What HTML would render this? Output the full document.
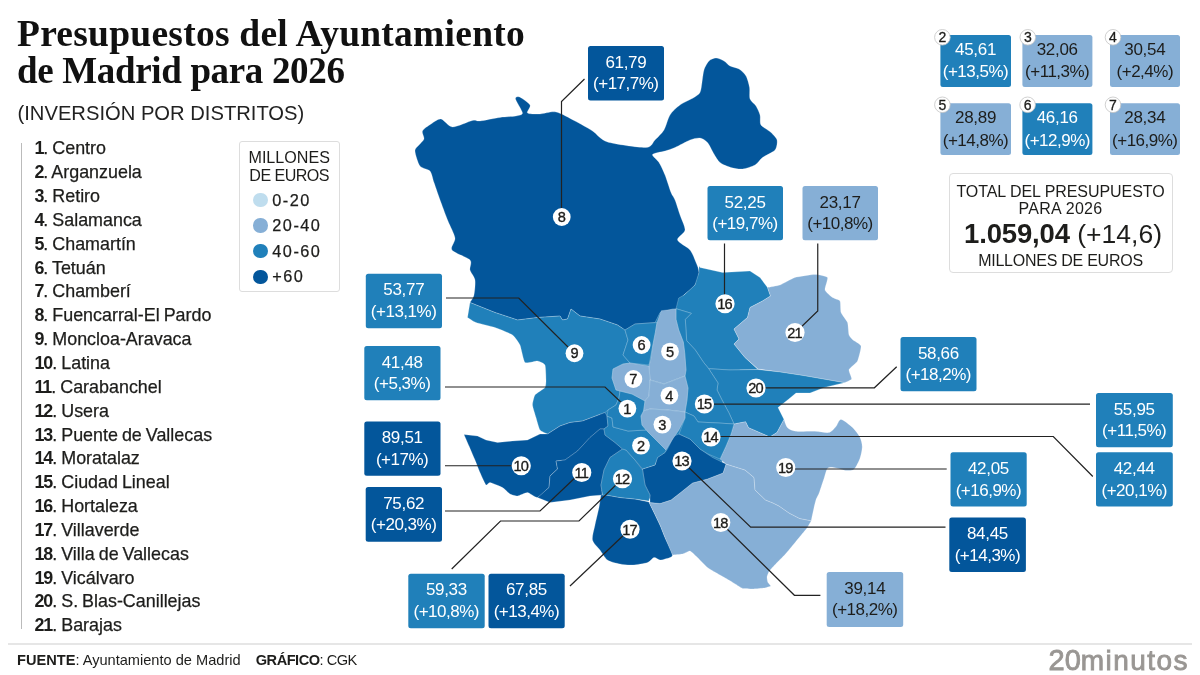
<!DOCTYPE html>
<html lang="es"><head><meta charset="utf-8"><title>Presupuestos del Ayuntamiento de Madrid para 2026</title>
<style>
html,body{margin:0;padding:0;background:#fff}
#g{position:relative;width:1200px;height:675px;overflow:hidden;background:#fff;font-family:"Liberation Sans",sans-serif;color:#1d1d1b}
#g svg{position:absolute;left:0;top:0}
h1{position:absolute;left:17px;top:15.6px;margin:0;font-family:"Liberation Serif",serif;font-weight:bold;font-size:37.5px;line-height:36.9px;letter-spacing:0.25px;color:#111;white-space:nowrap}
h1 span{font-size:37px;letter-spacing:-0.34px}
.sub{position:absolute;left:17.5px;top:100px;font-size:20.2px;line-height:26px;color:#222;white-space:nowrap}
ol{position:absolute;left:34.4px;top:137.4px;margin:0;padding:0;list-style:none;font-size:17.9px;line-height:23.85px;white-space:nowrap;word-spacing:-1px;-webkit-text-stroke:0.25px #1d1d1b}
ol b{font-weight:bold;letter-spacing:-1px;-webkit-text-stroke:0}
.vl{position:absolute;left:21px;top:143px;width:1px;height:486px;background:#bbb}
.leg{position:absolute;left:238.7px;top:140.7px;width:101px;height:151px;border:1px solid #ddd;border-radius:3px;box-sizing:border-box}
.leg .t{position:absolute;left:0;right:0;top:6.5px;text-align:center;font-size:16.1px;line-height:18px}
.leg i{position:absolute;left:13.8px;width:14.4px;height:14.4px;border-radius:50%}
.leg u{text-decoration:none;letter-spacing:-0.55px}
.leg span{-webkit-text-stroke:0.25px #1d1d1b;position:absolute;left:32.6px;font-size:16.3px;line-height:18px;letter-spacing:1.5px}
.hr{position:absolute;left:8px;top:642.8px;width:1184px;height:2px;background:#e6e6e6}
.foot{position:absolute;left:17px;top:651px;font-size:14.6px;line-height:18px;white-space:nowrap}
.logo{position:absolute;left:1048.5px;top:643.6px;font-size:28px;line-height:32px;color:#999693;white-space:nowrap;letter-spacing:1.45px;-webkit-text-stroke:0.85px #999693}
.logo b{font-weight:normal;font-size:29px;letter-spacing:0}
.tot{position:absolute;left:949px;top:173px;width:224px;height:100px;border:1px solid #ddd;border-radius:4px;box-sizing:border-box;text-align:center}
.tot div{position:absolute;left:0;right:0;white-space:nowrap}
</style></head><body><div id="g">
<h1>Presupuestos del Ayuntamiento<br><span>de Madrid para 2026</span></h1>
<div class="sub">(INVERSIÓN POR DISTRITOS)</div>
<div class="vl"></div>
<ol>
<li><b>1</b>. Centro</li>
<li><b>2</b>. Arganzuela</li>
<li><b>3</b>. Retiro</li>
<li><b>4</b>. Salamanca</li>
<li><b>5</b>. Chamartín</li>
<li><b>6</b>. Tetuán</li>
<li><b>7</b>. Chamberí</li>
<li><b>8</b>. Fuencarral-El Pardo</li>
<li><b>9</b>. Moncloa-Aravaca</li>
<li><b>10</b>. Latina</li>
<li><b>11</b>. Carabanchel</li>
<li><b>12</b>. Usera</li>
<li><b>13</b>. Puente de Vallecas</li>
<li><b>14</b>. Moratalaz</li>
<li><b>15</b>. Ciudad Lineal</li>
<li><b>16</b>. Hortaleza</li>
<li><b>17</b>. Villaverde</li>
<li><b>18</b>. Villa de Vallecas</li>
<li><b>19</b>. Vicálvaro</li>
<li><b>20</b>. S. Blas-Canillejas</li>
<li><b>21</b>. Barajas</li>
</ol>
<div class="leg"><div class="t">MILLONES<br><u>DE EUROS</u></div>
<i style="top:51.2px;background:#BFDDEE"></i><span style="top:49.6px">0-20</span>
<i style="top:76.8px;background:#86AFD6"></i><span style="top:74.6px">20-40</span>
<i style="top:102.4px;background:#2080BA"></i><span style="top:100px">40-60</span>
<i style="top:127.9px;background:#03569B"></i><span style="top:125.1px">+60</span>
</div>
<svg width="1200" height="675" viewBox="0 0 1200 675" font-family="'Liberation Sans',sans-serif">
<g>
<polygon fill="#2080BA" points="600,405 625,320 700,300 740,370 735,430 722,462 670,455 640,470 600,440"/>
<polygon fill="#03569B" points="600,425 640,465 660,500 604,492 560,462"/>
</g>
<g stroke="#ffffff" stroke-opacity="0.28" stroke-width="0.8" stroke-linejoin="round">
<path fill="#03569B" d="M415.0,151.0C414.9,148.2 417.8,146.6 419.0,145.0C420.2,143.4 423.5,140.9 424.0,139.0C424.5,137.1 421.6,133.0 422.5,131.0C423.4,129.0 428.5,125.6 431.0,124.0C433.5,122.4 438.1,118.6 441.0,119.0C443.9,119.4 448.3,126.8 452.5,127.0C456.7,127.2 468.8,121.3 472.5,120.5C476.2,119.7 476.3,121.4 480.0,121.0C483.7,120.6 495.2,118.2 500.0,117.5C504.8,116.8 513.0,116.6 516.0,116.0C519.0,115.4 522.6,115.3 522.5,113.0C522.4,110.7 515.9,101.1 515.5,99.0C515.1,96.9 517.6,96.2 519.5,97.0C521.4,97.8 528.9,102.9 530.0,105.0C531.1,107.1 526.2,111.8 527.5,113.0C528.8,114.2 536.2,114.1 540.0,114.0C543.8,113.9 551.3,111.1 556.0,112.0C560.7,112.9 570.1,118.5 575.0,121.0C579.9,123.5 588.2,128.2 592.5,131.0C596.8,133.8 600.4,139.8 607.5,142.0C614.6,144.2 639.7,147.8 646.0,147.5C652.3,147.2 652.6,142.3 655.0,140.0C657.4,137.7 662.0,133.3 664.0,130.0C666.0,126.7 667.9,118.3 670.0,115.0C672.1,111.7 676.8,107.3 680.0,105.0C683.2,102.7 691.3,99.2 694.0,97.5C696.7,95.8 698.9,94.5 700.0,92.5C701.1,90.5 701.5,85.5 702.0,82.5C702.5,79.5 703.1,72.9 704.0,70.0C704.9,67.1 707.4,62.6 709.0,61.0C710.6,59.4 714.0,58.0 716.0,58.0C718.0,58.0 722.1,59.9 724.0,61.0C725.9,62.1 728.0,64.9 730.0,66.0C732.0,67.1 736.9,67.7 739.0,69.0C741.1,70.3 744.6,73.5 746.0,76.0C747.4,78.5 749.0,84.4 749.5,87.5C750.0,90.6 749.1,96.5 750.0,99.0C750.9,101.5 754.7,103.9 756.0,106.0C757.3,108.1 759.3,112.5 760.0,115.0C760.7,117.5 759.5,122.7 761.0,125.0C762.5,127.3 768.9,130.5 771.0,132.5C773.1,134.5 776.5,137.7 777.0,140.0C777.5,142.3 776.9,147.7 775.0,150.0C773.1,152.3 765.2,155.5 762.5,157.5C759.8,159.5 757.7,163.5 755.0,165.0C752.3,166.5 745.7,168.7 742.5,169.0C739.3,169.3 734.0,168.4 731.0,167.5C728.0,166.6 722.3,164.3 720.0,162.5C717.7,160.7 715.7,156.7 714.0,154.0C712.3,151.3 709.4,144.6 707.5,142.5C705.6,140.4 702.3,138.3 700.0,138.0C697.7,137.7 693.3,138.7 690.0,140.0C686.7,141.3 678.3,146.0 675.0,147.5C671.7,149.0 668.0,150.1 665.0,151.0C662.0,151.9 653.3,153.0 652.5,154.5C651.7,156.0 657.3,159.8 659.0,162.5C660.7,165.2 663.4,171.0 665.0,175.0C666.6,179.0 669.7,189.2 671.0,192.5C672.3,195.8 673.8,197.0 675.0,200.0C676.2,203.0 678.7,211.0 680.0,215.0C681.3,219.0 685.3,226.7 685.0,230.0C684.7,233.3 676.8,237.3 677.5,240.0C678.2,242.7 687.5,247.0 690.0,250.0C692.5,253.0 694.8,259.5 696.0,262.5C697.2,265.5 699.1,269.5 699.0,272.5C698.9,275.5 697.0,282.0 695.0,285.0C693.0,288.0 686.0,293.0 684.0,295.0C682.0,297.0 680.9,298.1 680.0,300.0C679.1,301.9 677.8,307.8 677.5,309.0L672.5,309.0L660.0,312.5L655.0,322.5L635.0,324.0L625.0,330.0L617.5,325.0L600.0,319.0L580.0,316.0L571.0,309.0L567.5,319.0L562.5,320.0L560.0,316.0L537.5,317.5L517.5,320.0L495.0,312.5L470.0,302.5C470.5,301.5 473.3,298.0 474.0,295.0C474.7,292.0 475.5,283.3 475.0,280.0C474.5,276.7 470.7,272.7 470.0,270.0C469.3,267.3 472.4,262.7 470.0,260.0C467.6,257.3 454.0,252.9 452.0,250.0C450.0,247.1 455.5,241.9 455.0,238.0C454.5,234.1 449.9,225.7 448.0,221.0C446.1,216.3 442.9,207.6 441.0,202.5C439.1,197.4 435.5,186.7 434.0,182.5C432.5,178.3 431.9,173.2 430.0,171.0C428.1,168.8 422.0,168.7 420.0,166.0C418.0,163.3 415.1,153.8 415.0,151.0Z"/>
<path fill="#2080BA" d="M470.0,302.5L495.0,312.5L517.5,320.0L537.5,317.5L560.0,316.0L562.5,320.0L567.5,319.0L571.0,309.0L580.0,316.0L600.0,319.0L617.5,325.0L625.0,330.0L628.0,340.0L623.0,355.0L630.0,363.0L623.0,364.0L613.0,369.0L612.0,378.0L616.0,390.0L620.0,391.0L619.0,398.0L616.0,405.0L608.0,410.0L605.0,412.5L582.5,421.0L570.0,422.5L560.0,426.0L547.5,434.0C546.9,433.7 541.0,431.4 540.0,430.0C539.0,428.6 536.6,419.6 536.0,417.5C535.4,415.4 532.6,406.9 532.5,405.0C532.4,403.1 534.0,396.5 535.0,395.0C536.0,393.5 544.1,388.8 545.0,387.5C545.9,386.2 546.0,381.9 546.0,380.0C546.0,378.1 545.7,366.6 545.0,365.0C544.3,363.4 539.2,361.2 537.5,361.0C535.8,360.8 526.5,363.8 525.0,362.5C523.5,361.2 521.0,347.3 520.0,345.0C519.0,342.7 514.6,336.5 512.5,335.0C510.4,333.5 498.0,328.5 495.0,327.5C492.0,326.5 478.3,323.3 476.0,322.5C473.7,321.7 468.2,317.9 467.5,317.5L470.0,302.5Z"/>
<polygon fill="#2080BA" points="699,266 700,267.5 722.5,272.5 750,271 760,277.5 767.5,287.5 770.5,296 762.5,301 750,307.5 747.5,317.5 734,329 739,339 734,344 745,357.5 758,369.5 730,370 708.7,368.7 703.3,362 695.3,350 686.7,340.7 686,331.3 685.3,319.3 691.3,313.3 676,308.7 678.7,298 684,295 695,285 699,272.5"/>
<path fill="#86AFD6" d="M770.5,296.0L767.5,287.5C768.5,287.3 777.7,285.8 780.0,285.0C782.3,284.2 792.1,278.4 795.0,277.5C797.9,276.6 812.3,274.5 815.0,274.5C817.7,274.5 826.7,276.2 827.5,277.5C828.3,278.8 824.6,288.3 825.0,290.0C825.4,291.7 831.2,296.6 832.5,297.5C833.8,298.4 839.3,299.8 840.0,301.0C840.7,302.2 840.4,310.7 841.0,312.5C841.6,314.3 846.8,320.6 847.5,322.5C848.2,324.4 848.5,333.5 849.0,335.0C849.5,336.5 852.0,339.1 853.0,340.0C854.0,340.9 860.6,344.2 861.0,346.0C861.4,347.8 858.5,359.0 857.5,361.0C856.5,363.0 849.5,368.1 849.0,369.6C848.5,371.1 852.0,377.9 851.6,379.0C851.2,380.1 845.1,382.4 844.5,382.7L803.0,375.5L780.0,372.0L758.0,369.0L745.0,357.5L734.0,344.0L739.0,339.0L734.0,329.0L747.5,317.5L750.0,307.5L762.5,301.0L770.5,296.0Z"/>
<polygon fill="#2080BA" points="708.7,368.7 730,370 758,369.5 780,372 803,375.5 844.5,382.7 824.3,387.4 810,393 796,393 788.8,399 778,407.6 784,419.4 777,432.5 769.8,437 748.5,427.7 745.6,421.8 734,424 729,413 722,400 717,390 718,383"/>
<polygon fill="#2080BA" points="676,308.7 691.3,313.3 685.3,319.3 686,331.3 686.7,340.7 695.3,350 703.3,362 708.7,368.7 718,383 717,390 722,400 729,413 734,424 718,423 698,422 694,416 685,412 687,400 688,388 685,376 686,370 684.7,352.7 683.3,342 678.7,330 676,319.3"/>
<path fill="#03569B" d="M464.0,434.5L477.5,436.0L486.0,440.0L497.5,442.5L512.5,441.0L527.5,440.0L540.0,434.0L547.5,434.0L560.0,426.0L570.0,422.5L582.5,421.0L605.0,412.5L607.0,416.0L608.0,426.0L604.0,429.0L600.0,429.0L590.0,437.5L577.5,451.0L565.0,460.0L556.0,461.0L557.5,469.0L550.0,476.0L549.0,487.5C548.0,488.3 539.3,497.1 537.5,497.5C535.7,497.9 529.2,492.6 527.5,492.5C525.8,492.4 519.0,495.9 517.5,496.0C516.0,496.1 511.2,494.7 510.0,494.0C508.8,493.3 504.2,488.5 502.5,487.5C500.8,486.5 491.4,482.7 490.0,482.5C488.6,482.3 486.8,485.8 486.0,485.0C485.2,484.2 480.9,474.6 480.0,472.5C479.1,470.4 475.9,462.2 475.0,460.0C474.1,457.8 469.9,448.1 469.0,446.0C468.1,443.9 464.4,435.5 464.0,434.5Z"/>
<polygon fill="#03569B" points="604,429 600,429 590,437.5 577.5,451 565,460 556,461 557.5,469 550,476 549,487.5 537.5,497.5 550,502.5 570,500 590,496 602.5,495 601,485 604,470 610,457.5 622.5,449 615,442.5 605,435"/>
<path fill="#03569B" d="M601.0,495.0L606.0,495.0L620.0,497.5L635.0,499.0L649.0,502.0C649.7,503.4 652.5,509.4 654.0,512.5C655.5,515.6 658.5,521.7 660.0,525.0C661.5,528.3 663.3,533.5 665.0,537.5C666.7,541.5 672.5,552.1 672.5,555.0C672.5,557.9 666.7,558.3 665.0,559.0C663.3,559.7 661.5,560.2 660.0,560.0C658.5,559.8 655.7,557.2 654.0,557.5C652.3,557.8 650.4,561.5 647.5,562.5C644.6,563.5 636.2,564.8 632.5,565.0C628.8,565.2 623.3,564.7 620.0,564.0C616.7,563.3 610.2,561.9 607.5,560.0C604.8,558.1 602.0,552.7 600.0,550.0C598.0,547.3 593.2,543.3 592.5,540.0C591.8,536.7 594.1,529.3 595.0,525.0C595.9,520.7 598.5,509.8 599.0,507.5L601.0,495.0Z"/>
<path fill="#86AFD6" d="M726.0,464.0L745.0,470.0L754.0,477.5L755.0,490.0L765.5,500.0L773.0,503.0L779.0,506.0L789.0,513.0L799.6,518.5L811.2,520.7C810.9,521.3 808.0,526.6 807.0,528.0C806.0,529.4 800.8,535.5 799.6,537.0C798.4,538.5 793.4,544.5 792.2,546.0C791.0,547.5 786.2,553.3 784.8,554.8C783.4,556.3 777.2,562.4 775.9,563.7C774.6,565.1 770.0,569.9 769.3,571.0C768.6,572.1 767.1,576.1 767.0,577.0C766.9,577.9 767.5,581.5 767.8,582.2C768.1,583.0 771.0,585.5 770.7,586.0C770.4,586.5 765.4,587.8 764.0,588.0C762.6,588.2 755.4,588.9 753.7,588.9C752.0,588.9 744.8,589.0 743.3,588.6C741.8,588.2 737.1,585.1 736.0,584.4C734.9,583.7 731.3,581.5 730.0,580.7C728.7,579.9 721.9,576.1 720.0,575.0C718.1,573.9 709.4,569.0 707.5,567.5C705.6,566.0 699.0,558.9 697.5,557.5C696.0,556.1 691.2,551.3 690.0,551.0C688.8,550.7 684.0,553.7 682.5,554.0C681.0,554.3 673.3,554.9 672.5,555.0L665.0,537.5L660.0,525.0L654.0,512.5L649.0,502.5L660.0,503.5L671.0,500.0L680.0,493.0L692.5,483.0L707.5,479.0L723.0,473.0L726.0,464.0Z"/>
<path fill="#86AFD6" d="M734.0,424.0L745.6,421.8L748.5,427.7L769.8,437.0L777.0,432.5L784.0,419.4C784.5,420.5 786.0,426.1 787.6,427.7C789.2,429.3 792.3,430.8 795.9,431.3C799.5,431.8 810.4,431.1 814.8,431.3C819.2,431.5 826.2,433.1 829.0,432.5C831.8,431.9 834.4,428.2 836.0,426.5C837.6,424.8 838.8,419.2 841.0,419.4C843.2,419.6 850.3,425.3 852.8,427.7C855.3,430.1 858.6,434.7 859.9,437.2C861.2,439.7 862.2,443.9 862.2,446.7C862.2,449.5 861.0,455.5 859.9,458.5C858.8,461.5 855.9,467.6 854.0,469.2C852.1,470.8 848.1,470.6 845.7,470.4C843.3,470.2 838.6,468.3 836.2,468.0C833.8,467.7 829.5,466.7 827.9,468.0C826.3,469.3 825.4,474.3 824.3,477.5C823.2,480.7 820.5,489.1 819.6,491.7C818.7,494.3 817.7,495.9 817.2,497.0C816.7,498.1 816.4,498.4 815.9,500.0C815.4,501.6 814.3,506.1 813.7,508.9C813.1,511.7 811.5,519.1 811.2,520.7L799.6,518.5L789.0,513.0L779.0,506.0L773.0,503.0L765.5,500.0L755.0,490.0L754.0,477.5L745.0,470.0L726.0,464.0L720.0,459.0L726.0,446.0L731.0,434.0L734.0,424.0Z"/>
<polygon fill="#03569B" points="667.5,449 674,436 679,434 690,439 700,449 712.5,457.5 726,464 723,473 707.5,479 692.5,483 680,493 671,500 660,503.5 650,502.5 650,495 645,485 642.5,469 655,465 657.5,457.5 665,452.5"/>
<polygon fill="#2080BA" points="685,412 694,416 698,422 718,423 734,424 731,434 726,446 720,459 708,454 700,449 690,439 679,434 685,418"/>
<polygon fill="#2080BA" points="622.5,449 626,450 635,460 642.5,470 645,485 650,495 649,501 635,499 620,497.5 606,495 602.5,495 601,485 604,470 610,457.5"/>
<polygon fill="#2080BA" points="607,416 612,418 613,427 628,431 646,430 648,432 660,444 666,450 665,452.5 657.5,457.5 655,465 642.5,469 635,460 626,450 622.5,449 615,442.5 605,435 604,429 608,426"/>
<polygon fill="#2080BA" points="620,391 632,394 645,401 643.6,411 641,416 642,425 646,430 628,431 613,427 612,418 607,416 608,410 616,405 619,398"/>
<polygon fill="#2080BA" points="625,330 635,324 657,322.5 655.3,332.7 652.7,346 649,365 630,363 623,355 628,340"/>
<polygon fill="#86AFD6" points="661.3,310.7 676,309 676,319.3 678.7,330 683.3,342 684.7,352.7 686,370 685,376 664,384 650,380 649,366 650.7,359.3 652.7,346 655.3,332.7 657,322.5"/>
<polygon fill="#86AFD6" points="613,369 623,364 630,363 649,366 650,380 649,396 645,401 632,394 620,391 616,390 612,378"/>
<polygon fill="#86AFD6" points="650,380 664,384 685,376 688,388 687,400 685,412 668,410 650,409 643.6,411 645,401 649,396"/>
<polygon fill="#86AFD6" points="643.6,411 650,409 668,410 685,412 685,418 679,430 672,440 666,450 660,444 648,432 642,425 641,416"/>
</g>
<g fill="none" stroke="#222" stroke-width="1.2">
<polyline points="561.5,217 561.5,101.5 584.5,79"/>
<polyline points="724.5,243.5 724.5,300"/>
<polyline points="817.75,243.5 817.75,311 797,331"/>
<polyline points="446,298 518.75,298 572,351"/>
<polyline points="445,387 605,387 625,406"/>
<polyline points="445,465.75 520,465.75"/>
<polyline points="445,511 540,511 579,474"/>
<polyline points="451.7,569 500.5,521 579,521 620,481"/>
<polyline points="570,586 628,531"/>
<polyline points="684,463 750.7,527.1 945.5,527.1"/>
<polyline points="722,524 794.4,595.3 820.4,595.3"/>
<polyline points="787,469 946.7,469"/>
<polyline points="713,436.5 1053.3,436.5 1092.8,476.5"/>
<polyline points="706,404.2 1090,404.2"/>
<polyline points="758,387.8 874.4,387.8 896.7,366.7"/>
</g>
<g>
<rect x="588" y="46" width="76.0" height="54.5" rx="2.5" fill="#03569B"/><text x="625.9" y="67.6" text-anchor="middle" font-size="17" letter-spacing="-0.3" fill="#fff">61,79</text><text x="625.8" y="89.3" text-anchor="middle" font-size="17" letter-spacing="-0.5" fill="#fff">(+17,7%)</text>
<rect x="707.5" y="186" width="75.5" height="54.3" rx="2.5" fill="#2080BA"/><text x="745.1" y="207.6" text-anchor="middle" font-size="17" letter-spacing="-0.3" fill="#fff">52,25</text><text x="745.0" y="229.3" text-anchor="middle" font-size="17" letter-spacing="-0.5" fill="#fff">(+19,7%)</text>
<rect x="802.5" y="186" width="75.5" height="54.3" rx="2.5" fill="#86AFD6"/><text x="840.1" y="207.6" text-anchor="middle" font-size="17" letter-spacing="-0.3" fill="#1d1d1b">23,17</text><text x="840.0" y="229.3" text-anchor="middle" font-size="17" letter-spacing="-0.5" fill="#1d1d1b">(+10,8%)</text>
<rect x="365.8" y="273.8" width="76.2" height="54.5" rx="2.5" fill="#2080BA"/><text x="403.8" y="295.4" text-anchor="middle" font-size="17" letter-spacing="-0.3" fill="#fff">53,77</text><text x="403.6" y="317.1" text-anchor="middle" font-size="17" letter-spacing="-0.5" fill="#fff">(+13,1%)</text>
<rect x="364.3" y="346" width="76.2" height="54.3" rx="2.5" fill="#2080BA"/><text x="402.2" y="367.6" text-anchor="middle" font-size="17" letter-spacing="-0.3" fill="#fff">41,48</text><text x="402.1" y="389.3" text-anchor="middle" font-size="17" letter-spacing="-0.5" fill="#fff">(+5,3%)</text>
<rect x="364.3" y="421.5" width="76.2" height="54.3" rx="2.5" fill="#03569B"/><text x="402.2" y="443.1" text-anchor="middle" font-size="17" letter-spacing="-0.3" fill="#fff">89,51</text><text x="402.1" y="464.8" text-anchor="middle" font-size="17" letter-spacing="-0.5" fill="#fff">(+17%)</text>
<rect x="365.7" y="487" width="76.3" height="54.8" rx="2.5" fill="#03569B"/><text x="403.7" y="508.6" text-anchor="middle" font-size="17" letter-spacing="-0.3" fill="#fff">75,62</text><text x="403.6" y="530.3" text-anchor="middle" font-size="17" letter-spacing="-0.5" fill="#fff">(+20,3%)</text>
<rect x="408.3" y="573.7" width="76.4" height="54.5" rx="2.5" fill="#2080BA"/><text x="446.4" y="595.3" text-anchor="middle" font-size="17" letter-spacing="-0.3" fill="#fff">59,33</text><text x="446.2" y="617.0" text-anchor="middle" font-size="17" letter-spacing="-0.5" fill="#fff">(+10,8%)</text>
<rect x="488.5" y="573.7" width="76.2" height="54.5" rx="2.5" fill="#03569B"/><text x="526.5" y="595.3" text-anchor="middle" font-size="17" letter-spacing="-0.3" fill="#fff">67,85</text><text x="526.4" y="617.0" text-anchor="middle" font-size="17" letter-spacing="-0.5" fill="#fff">(+13,4%)</text>
<rect x="900.5" y="337" width="76.0" height="54.2" rx="2.5" fill="#2080BA"/><text x="938.4" y="358.6" text-anchor="middle" font-size="17" letter-spacing="-0.3" fill="#fff">58,66</text><text x="938.2" y="380.3" text-anchor="middle" font-size="17" letter-spacing="-0.5" fill="#fff">(+18,2%)</text>
<rect x="1096" y="393" width="76.8" height="54.2" rx="2.5" fill="#2080BA"/><text x="1134.2" y="414.6" text-anchor="middle" font-size="17" letter-spacing="-0.3" fill="#fff">55,95</text><text x="1134.2" y="436.3" text-anchor="middle" font-size="17" letter-spacing="-0.5" fill="#fff">(+11,5%)</text>
<rect x="1096" y="452.2" width="76.8" height="54.2" rx="2.5" fill="#2080BA"/><text x="1134.2" y="473.8" text-anchor="middle" font-size="17" letter-spacing="-0.3" fill="#fff">42,44</text><text x="1134.2" y="495.5" text-anchor="middle" font-size="17" letter-spacing="-0.5" fill="#fff">(+20,1%)</text>
<rect x="950.5" y="452.2" width="76.2" height="54.2" rx="2.5" fill="#2080BA"/><text x="988.5" y="473.8" text-anchor="middle" font-size="17" letter-spacing="-0.3" fill="#fff">42,05</text><text x="988.4" y="495.5" text-anchor="middle" font-size="17" letter-spacing="-0.5" fill="#fff">(+16,9%)</text>
<rect x="949.3" y="517.5" width="76.6" height="54.5" rx="2.5" fill="#03569B"/><text x="987.5" y="539.1" text-anchor="middle" font-size="17" letter-spacing="-0.3" fill="#fff">84,45</text><text x="987.4" y="560.8" text-anchor="middle" font-size="17" letter-spacing="-0.5" fill="#fff">(+14,3%)</text>
<rect x="826.7" y="572" width="76.5" height="55.0" rx="2.5" fill="#86AFD6"/><text x="864.8" y="593.6" text-anchor="middle" font-size="17" letter-spacing="-0.3" fill="#1d1d1b">39,14</text><text x="864.7" y="615.3" text-anchor="middle" font-size="17" letter-spacing="-0.5" fill="#1d1d1b">(+18,2%)</text>
<rect x="940.4" y="35" width="70.6" height="52.0" rx="2.5" fill="#2080BA"/><text x="975.6" y="55.0" text-anchor="middle" font-size="17" letter-spacing="-0.3" fill="#fff">45,61</text><text x="975.5" y="77.3" text-anchor="middle" font-size="17" letter-spacing="-0.5" fill="#fff">(+13,5%)</text>
<rect x="1022.4" y="35" width="70.0" height="52.0" rx="2.5" fill="#86AFD6"/><text x="1057.2" y="55.0" text-anchor="middle" font-size="17" letter-spacing="-0.3" fill="#1d1d1b">32,06</text><text x="1057.2" y="77.3" text-anchor="middle" font-size="17" letter-spacing="-0.5" fill="#1d1d1b">(+11,3%)</text>
<rect x="1110" y="35" width="70.0" height="52.0" rx="2.5" fill="#86AFD6"/><text x="1144.8" y="55.0" text-anchor="middle" font-size="17" letter-spacing="-0.3" fill="#1d1d1b">30,54</text><text x="1144.8" y="77.3" text-anchor="middle" font-size="17" letter-spacing="-0.5" fill="#1d1d1b">(+2,4%)</text>
<rect x="940.4" y="103.2" width="70.6" height="51.8" rx="2.5" fill="#86AFD6"/><text x="975.6" y="123.2" text-anchor="middle" font-size="17" letter-spacing="-0.3" fill="#1d1d1b">28,89</text><text x="975.5" y="145.5" text-anchor="middle" font-size="17" letter-spacing="-0.5" fill="#1d1d1b">(+14,8%)</text>
<rect x="1022.4" y="103.2" width="70.0" height="51.8" rx="2.5" fill="#2080BA"/><text x="1057.2" y="123.2" text-anchor="middle" font-size="17" letter-spacing="-0.3" fill="#fff">46,16</text><text x="1057.2" y="145.5" text-anchor="middle" font-size="17" letter-spacing="-0.5" fill="#fff">(+12,9%)</text>
<rect x="1110" y="103.2" width="70.0" height="51.8" rx="2.5" fill="#86AFD6"/><text x="1144.8" y="123.2" text-anchor="middle" font-size="17" letter-spacing="-0.3" fill="#1d1d1b">28,34</text><text x="1144.8" y="145.5" text-anchor="middle" font-size="17" letter-spacing="-0.5" fill="#1d1d1b">(+16,9%)</text>
</g>
<g text-anchor="middle" font-size="14.6" fill="#1d1d1b" stroke="#1d1d1b" stroke-width="0.35">
<circle cx="627.4" cy="408.6" r="8.9" fill="#fff" stroke="none"/><text x="627.4" y="413.8">1</text>
<circle cx="641" cy="445.6" r="8.9" fill="#fff" stroke="none"/><text x="641" y="450.8">2</text>
<circle cx="662.4" cy="424.6" r="8.9" fill="#fff" stroke="none"/><text x="662.4" y="429.8">3</text>
<circle cx="669.4" cy="395.6" r="8.9" fill="#fff" stroke="none"/><text x="669.4" y="400.8">4</text>
<circle cx="670" cy="351.6" r="8.9" fill="#fff" stroke="none"/><text x="670" y="356.8">5</text>
<circle cx="641.6" cy="345" r="8.9" fill="#fff" stroke="none"/><text x="641.6" y="350.2">6</text>
<circle cx="633.4" cy="379" r="8.9" fill="#fff" stroke="none"/><text x="633.4" y="384.2">7</text>
<circle cx="561.75" cy="217" r="8.9" fill="#fff" stroke="none"/><text x="561.75" y="222.2">8</text>
<circle cx="574.5" cy="353.25" r="8.9" fill="#fff" stroke="none"/><text x="574.5" y="358.4">9</text>
<circle cx="521.25" cy="465.75" r="9.6" fill="#fff" stroke="none"/><text x="520.8" y="470.9" letter-spacing="-0.9">10</text>
<circle cx="581.75" cy="472.5" r="9.6" fill="#fff" stroke="none"/><text x="581.3" y="477.7" letter-spacing="-0.9">11</text>
<circle cx="622.5" cy="478.75" r="9.6" fill="#fff" stroke="none"/><text x="622.05" y="483.9" letter-spacing="-0.9">12</text>
<circle cx="682" cy="461" r="9.6" fill="#fff" stroke="none"/><text x="681.55" y="466.2" letter-spacing="-0.9">13</text>
<circle cx="711" cy="437" r="9.6" fill="#fff" stroke="none"/><text x="710.55" y="442.2" letter-spacing="-0.9">14</text>
<circle cx="704.4" cy="404" r="9.6" fill="#fff" stroke="none"/><text x="703.9499999999999" y="409.2" letter-spacing="-0.9">15</text>
<circle cx="725" cy="303.75" r="9.6" fill="#fff" stroke="none"/><text x="724.55" y="308.9" letter-spacing="-0.9">16</text>
<circle cx="630" cy="529.25" r="9.6" fill="#fff" stroke="none"/><text x="629.55" y="534.5" letter-spacing="-0.9">17</text>
<circle cx="720.75" cy="522.5" r="9.6" fill="#fff" stroke="none"/><text x="720.3" y="527.7" letter-spacing="-0.9">18</text>
<circle cx="785.75" cy="467.5" r="9.6" fill="#fff" stroke="none"/><text x="785.3" y="472.7" letter-spacing="-0.9">19</text>
<circle cx="756" cy="388" r="9.6" fill="#fff" stroke="none"/><text x="755.55" y="393.2" letter-spacing="-0.9">20</text>
<circle cx="795" cy="332.5" r="9.6" fill="#fff" stroke="none"/><text x="794.55" y="337.7" letter-spacing="-0.9">21</text>
<circle cx="942.4" cy="37.3" r="7.8" fill="#fff" stroke="#c4c4c4" stroke-width="0.8"/><text x="942.4" y="42.3" font-size="14" stroke-width="0.3">2</text>
<circle cx="1027.8" cy="37.3" r="7.8" fill="#fff" stroke="#c4c4c4" stroke-width="0.8"/><text x="1027.8" y="42.3" font-size="14" stroke-width="0.3">3</text>
<circle cx="1113" cy="37.3" r="7.8" fill="#fff" stroke="#c4c4c4" stroke-width="0.8"/><text x="1113" y="42.3" font-size="14" stroke-width="0.3">4</text>
<circle cx="942.4" cy="104.8" r="7.8" fill="#fff" stroke="#c4c4c4" stroke-width="0.8"/><text x="942.4" y="109.8" font-size="14" stroke-width="0.3">5</text>
<circle cx="1027.6" cy="104.8" r="7.8" fill="#fff" stroke="#c4c4c4" stroke-width="0.8"/><text x="1027.6" y="109.8" font-size="14" stroke-width="0.3">6</text>
<circle cx="1113" cy="104.8" r="7.8" fill="#fff" stroke="#c4c4c4" stroke-width="0.8"/><text x="1113" y="109.8" font-size="14" stroke-width="0.3">7</text>
</g>
</svg>
<div class="tot"><div style="top:8.5px;left:-1px;font-size:16px;line-height:17.5px;letter-spacing:-0.07px">TOTAL DEL PRESUPUESTO<br><span style="letter-spacing:0.25px">PARA 2026</span></div>
<div style="top:44px;left:4px;font-size:26.5px;line-height:32px"><b style="font-size:27.5px;letter-spacing:-0.15px">1.059,04</b>&nbsp;(+14,6)</div>
<div style="top:78px;left:-1px;font-size:16px;line-height:18px;letter-spacing:-0.25px">MILLONES DE EUROS</div></div>
<div class="hr"></div>
<div class="foot"><b>FUENTE</b>: Ayuntamiento de Madrid&nbsp;&nbsp;&nbsp;<span style="letter-spacing:-0.5px;margin-left:3px"><b>GRÁFICO</b>: CGK</span></div>
<div class="logo"><b>20</b>minutos</div>
</div></body></html>
